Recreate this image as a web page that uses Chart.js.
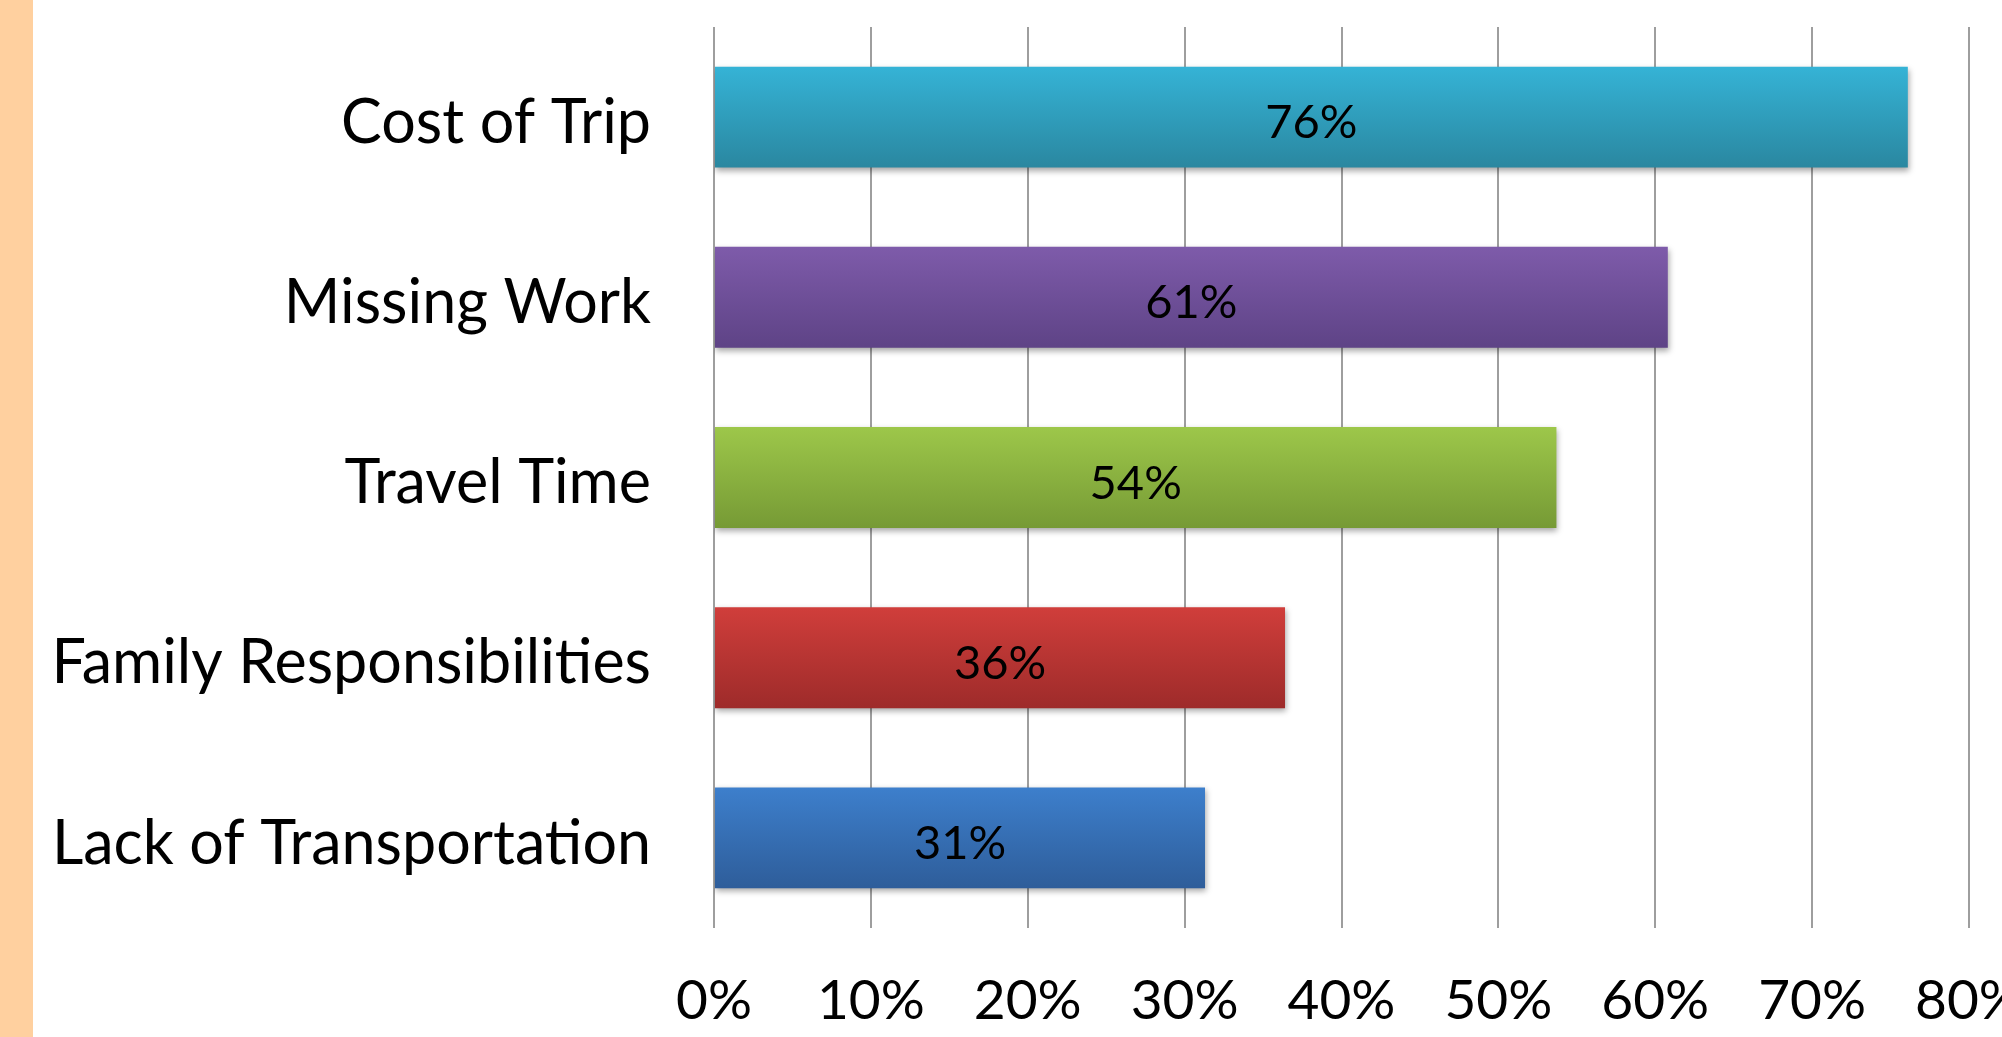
<!DOCTYPE html>
<html>
<head>
<meta charset="utf-8">
<script src="https://cdn.jsdelivr.net/npm/chart.js@4"></script>
<style>
    html, body { margin: 0; padding: 0; background: #fff; overflow: hidden; }
    #strip { position: absolute; left: 0; top: 0; width: 33px; height: 1037px; background: #FFD09F; }
    #chart { position: absolute; left: 0; top: 0; }
</style>
</head>
<body>
<div id="strip"></div>
<canvas id="chart" width="2040" height="1037"></canvas>
<script>
// Barriers to making the trip
const categories = ['Cost of Trip', 'Missing Work', 'Travel Time', 'Family Responsibilities', 'Lack of Transportation'];
const shares = [76.1, 60.8, 53.7, 36.4, 31.3];
const topColors = ['#35B3D6', '#7E5BAA', '#9DC74A', '#D03E3B', '#3D7FCC'];
const bottomColors = ['#2A87A0', '#5E4386', '#769A35', '#9E2B2A', '#2E5D9A'];

const BAR_PCT = 0.56;

// vertical gradient on each bar, from the bar's own pixel band
function barFill(ctx) {
    const chart = ctx.chart;
    const y = chart.scales.y;
    const i = ctx.dataIndex;
    if (!y || !chart.chartArea) return topColors[i];
    const c = y.getPixelForValue(i);
    const half = y.height / categories.length * BAR_PCT / 2;
    const g = chart.ctx.createLinearGradient(0, c - half, 0, c + half);
    g.addColorStop(0, topColors[i]);
    g.addColorStop(1, bottomColors[i]);
    return g;
}

// soft drop shadow under bars + value labels in the middle of each bar
const barExtras = {
    id: 'barExtras',
    beforeDatasetsDraw(chart) {
        const ctx = chart.ctx;
        ctx.save();
        ctx.shadowColor = 'rgba(0,0,0,0.35)';
        ctx.shadowBlur = 6;
        ctx.shadowOffsetY = 3;
        ctx.shadowOffsetX = 1;
    },
    afterDatasetsDraw(chart) {
        const ctx = chart.ctx;
        ctx.restore();
        const meta = chart.getDatasetMeta(0);
        ctx.save();
        ctx.font = '47px Lato';
        ctx.fillStyle = '#000';
        ctx.textAlign = 'center';
        ctx.textBaseline = 'middle';
        meta.data.forEach((bar, i) => {
            const cx = (bar.x + bar.base) / 2;
            ctx.fillText(Math.round(shares[i]) + '%', cx, bar.y + 6);
        });
        ctx.restore();
    }
};

const barriers = new Chart(document.getElementById('chart'), {
    type: 'bar',
    data: {
        labels: categories,
        datasets: [{
            data: shares,
            backgroundColor: barFill,
            borderWidth: 0,
            categoryPercentage: 1,
            barPercentage: BAR_PCT
        }]
    },
    options: {
        indexAxis: 'y',
        responsive: false,
        animation: false,
        layout: {
            padding: { top: 27, right: 71, bottom: 0, left: 0 }
        },
        plugins: {
            legend: { display: false },
            tooltip: { enabled: false }
        },
        scales: {
            x: {
                min: 0,
                max: 80,
                grid: {
                    color: '#9E9E9E', // grey verticals
                    lineWidth: 2,
                    drawTicks: false
                },
                border: { display: false },
                ticks: {
                    stepSize: 10,
                    padding: 40,
                    color: '#000',
                    font: { size: 55, family: 'Lato' },
                    callback: v => v + '%'
                },
                afterFit(scale) {
                    scale.height = 109;
                    scale.paddingLeft = 0;
                    scale.paddingRight = 0;
                }
            },
            y: {
                grid: { display: false, drawTicks: false },
                border: { display: false },
                ticks: {
                    padding: 63,
                    labelOffset: 6,
                    color: '#000',
                    font: { size: 61, family: 'Lato' }
                },
                afterFit(scale) {
                    scale.width = 714;
                    scale.paddingTop = 0;
                    scale.paddingBottom = 0;
                }
            }
        }
    },
    plugins: [barExtras]
});
</script>
</body>
</html>
